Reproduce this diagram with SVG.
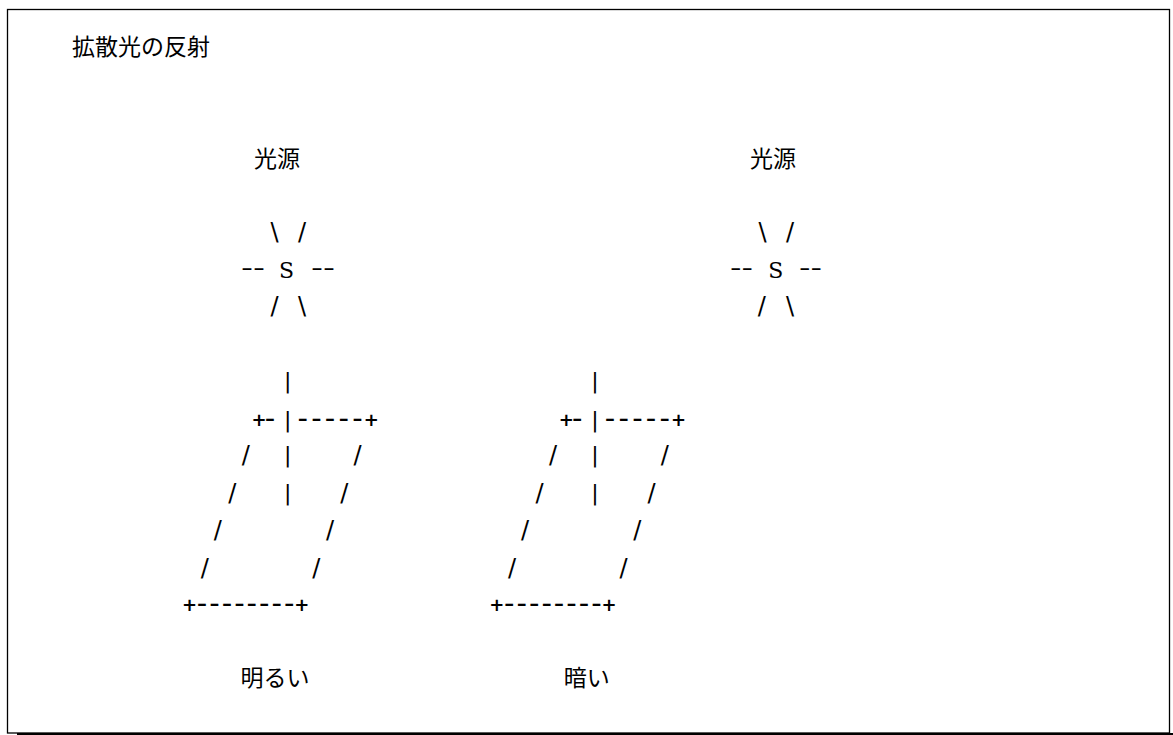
<svg xmlns="http://www.w3.org/2000/svg" width="1173" height="735" viewBox="0 0 1173 735">
  <style>
    .jp { font-family: "Noto Sans CJK JP", "Noto Sans", sans-serif; font-size: 23px; fill: #000; }
    .a { font-family: "DejaVu Sans", sans-serif; font-size: 22px; fill: #000; text-anchor: middle; }
    .sl { font-size: 24px; }
    .p { font-size: 18px; font-weight: bold; }
    .h { font-size: 29px; }
    .s { font-family: "DejaVu Serif", serif; font-size: 22px; fill: #000; text-anchor: middle; }
    .d { font-family: "DejaVu Sans", sans-serif; font-size: 22px; fill: #000; }
  </style>
  <rect x="7.5" y="9.5" width="1162" height="723.5" fill="#fff" stroke="#000" stroke-width="1.3"/>
  <rect x="17" y="733" width="1156" height="2" fill="#000"/>

  <g id="title">
    <text class="jp" x="72" y="55">拡散光の反射</text>
  </g>

  <g id="source-left">
    <text class="jp" x="277" y="167" text-anchor="middle">光源</text>
    <text class="a sl" x="274.5 302" y="240">\/</text>
    <text class="d" x="241" y="275" textLength="24" lengthAdjust="spacingAndGlyphs">--</text>
    <text class="s" x="286.5" y="278">S</text>
    <text class="d" x="311" y="275" textLength="24" lengthAdjust="spacingAndGlyphs">--</text>
    <text class="a sl" x="274.5 302" y="314">/\</text>
  </g>

  <g id="source-right">
    <text class="jp" x="773" y="167" text-anchor="middle">光源</text>
    <text class="a sl" x="762.5 790" y="240">\/</text>
    <text class="d" x="730" y="275" textLength="23" lengthAdjust="spacingAndGlyphs">--</text>
    <text class="s" x="775.8" y="278">S</text>
    <text class="d" x="799" y="275" textLength="23" lengthAdjust="spacingAndGlyphs">--</text>
    <text class="a sl" x="761.7 790" y="314">/\</text>
  </g>

  <g id="surface-bright">
    <text class="a" x="287.7" y="387.5">|</text>
    <text class="a" y="426.5"><tspan class="p" x="259" y="425.8">+</tspan><tspan class="h" x="270" y="428.2">-</tspan><tspan x="287.7" y="426.5">|</tspan><tspan class="h" x="302.7 316.4 330.1 343.8 357.5" y="428.2">-----</tspan><tspan class="p" x="371.2" y="425.8">+</tspan></text>
    <text class="a" y="462"><tspan class="sl" x="245.8" y="463">/</tspan><tspan x="287.7" y="462">|</tspan><tspan class="sl" x="357.5" y="463">/</tspan></text>
    <text class="a" y="499.5"><tspan class="sl" x="232.3" y="500.5">/</tspan><tspan x="287.7" y="499.5">|</tspan><tspan class="sl" x="344.3" y="500.5">/</tspan></text>
    <text class="a sl" x="217.7 330" y="538">//</text>
    <text class="a sl" x="204.7 316.3" y="575.5">//</text>
    <text class="a" y="612"><tspan class="p" x="189.5" y="611">+</tspan><tspan class="h" x="202 214.4 226.9 239.4 251.8 264.3 276.8 289.2" y="613.2">--------</tspan><tspan class="p" x="301.7" y="611">+</tspan></text>
    <text class="jp" x="275" y="686" text-anchor="middle">明るい</text>
  </g>

  <g id="surface-dark">
    <text class="a" x="595" y="387.5">|</text>
    <text class="a" y="426.5"><tspan class="p" x="566.3" y="425.8">+</tspan><tspan class="h" x="577.3" y="428.2">-</tspan><tspan x="595" y="426.5">|</tspan><tspan class="h" x="610 623.7 637.4 651.1 664.8" y="428.2">-----</tspan><tspan class="p" x="678.5" y="425.8">+</tspan></text>
    <text class="a" y="462"><tspan class="sl" x="553.1" y="463">/</tspan><tspan x="595" y="462">|</tspan><tspan class="sl" x="664.8" y="463">/</tspan></text>
    <text class="a" y="499.5"><tspan class="sl" x="539.6" y="500.5">/</tspan><tspan x="595" y="499.5">|</tspan><tspan class="sl" x="651.6" y="500.5">/</tspan></text>
    <text class="a sl" x="525 637.3" y="538">//</text>
    <text class="a sl" x="512 623.6" y="575.5">//</text>
    <text class="a" y="612"><tspan class="p" x="496.8" y="611">+</tspan><tspan class="h" x="509.3 521.7 534.2 546.7 559.1 571.6 584.1 596.5" y="613.2">--------</tspan><tspan class="p" x="609" y="611">+</tspan></text>
    <text class="jp" x="586.7" y="686" text-anchor="middle">暗い</text>
  </g>

  <g id="connectors"/>
</svg>
